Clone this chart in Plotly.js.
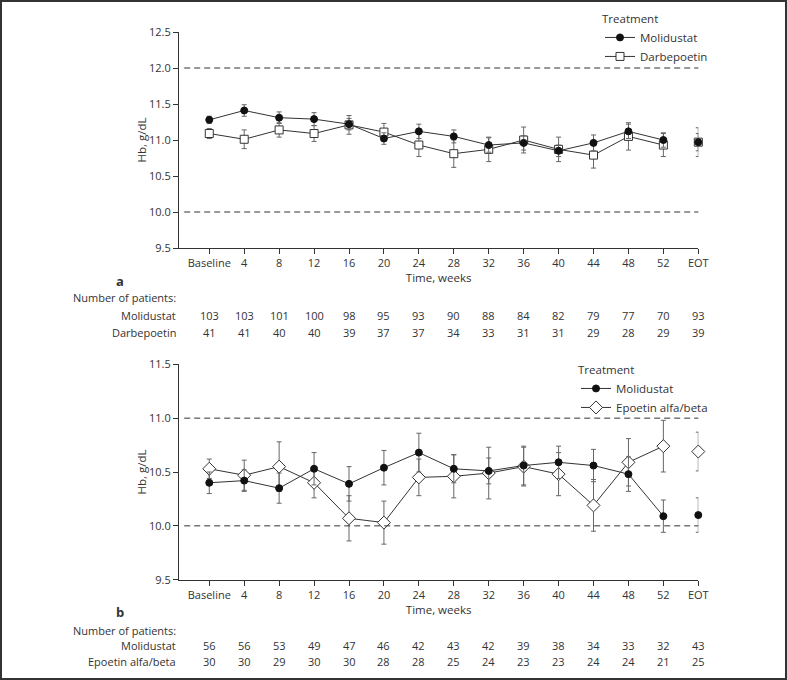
<!DOCTYPE html>
<html>
<head>
<meta charset="utf-8">
<script src="https://cdn.plot.ly/plotly-3.0.1.min.js"></script>
<style>
body { margin: 0; }
#chart { width: 787px; height: 680px; }
#frame { position: absolute; left: 0; top: 0; width: 787px; height: 680px; box-sizing: border-box; border: 2px solid #333; pointer-events: none; }
</style>
</head>
<body>
<div id="chart"></div>
<div id="frame"></div>
<script>
const weeks = ['Baseline', '4', '8', '12', '16', '20', '24', '28', '32', '36', '40', '44', '48', '52', 'EOT'];

// panel a
const moliA    = [11.28, 11.41, 11.31, 11.29, 11.22, 11.02, 11.12, 11.05, 10.93, 10.96, 10.85, 10.96, 11.12, 11.00, 10.97];
const moliAErr = [0.05, 0.08, 0.08, 0.09, 0.08, 0.08, 0.10, 0.09, 0.10, 0.10, 0.08, 0.11, 0.10, 0.10, 0.12];
const darbA    = [11.09, 11.01, 11.14, 11.09, 11.21, 11.11, 10.93, 10.81, 10.87, 11.00, 10.87, 10.79, 11.05, 10.93, 10.97];
const darbAErr = [0.07, 0.13, 0.10, 0.11, 0.13, 0.12, 0.16, 0.19, 0.17, 0.18, 0.17, 0.18, 0.19, 0.16, 0.20];

// panel b
const moliB    = [10.40, 10.42, 10.35, 10.53, 10.39, 10.54, 10.68, 10.53, 10.51, 10.56, 10.59, 10.56, 10.48, 10.09, 10.10];
const moliBErr = [0.10, 0.10, 0.14, 0.15, 0.16, 0.16, 0.18, 0.13, 0.12, 0.18, 0.15, 0.15, 0.16, 0.15, 0.16];
const epoB     = [10.53, 10.47, 10.55, 10.40, 10.07, 10.03, 10.45, 10.46, 10.49, 10.55, 10.48, 10.19, 10.59, 10.74, 10.69];
const epoBErr  = [0.09, 0.14, 0.23, 0.14, 0.21, 0.20, 0.17, 0.20, 0.24, 0.18, 0.20, 0.24, 0.22, 0.24, 0.18];

// number of patients
const nMoliA = [103, 103, 101, 100, 98, 95, 93, 90, 88, 84, 82, 79, 77, 70, 93];
const nDarbA = [41, 41, 40, 40, 39, 37, 37, 34, 33, 31, 31, 29, 28, 29, 39];
const nMoliB = [56, 56, 53, 49, 47, 46, 42, 43, 42, 39, 38, 34, 33, 32, 43];
const nEpoB  = [30, 30, 29, 30, 30, 28, 28, 25, 24, 23, 23, 24, 24, 21, 25];

const ink = '#333';
const fontFam = '"Open Sans", "DejaVu Sans", sans-serif';

function series(vals, errs, name, marker, xa, ya, legend) {
    // line runs through week 52, EOT is drawn on its own
    let main = {
        x: weeks.slice(0, 14), y: vals.slice(0, 14),
        error_y: {type: 'data', array: errs.slice(0, 14), color: '#666', thickness: 1, width: 2.5},
        type: 'scatter', mode: 'lines+markers', name: name,
        line: {color: ink, width: 1}, marker: marker,
        xaxis: xa, yaxis: ya, legend: legend, cliponaxis: false,
    };
    let eot = {
        x: weeks.slice(14), y: vals.slice(14),
        error_y: {type: 'data', array: errs.slice(14), color: '#666', thickness: 1, width: 2.5},
        type: 'scatter', mode: 'markers', name: name, showlegend: false,
        marker: marker, xaxis: xa, yaxis: ya, cliponaxis: false,
    };
    return [main, eot];
}

const dot = {symbol: 'circle', size: 7, color: '#111', line: {color: '#111', width: 1}};
const square = {symbol: 'square', size: 8, color: 'white', line: {color: ink, width: 1}};
const diamond = {symbol: 'diamond', size: 10, color: 'white', line: {color: ink, width: 1}};

let data = [].concat(
    series(darbA, darbAErr, 'Darbepoetin', square, 'x', 'y', 'legend'),
    series(moliA, moliAErr, 'Molidustat', dot, 'x', 'y', 'legend'),
    series(epoB, epoBErr, 'Epoetin alfa/beta', diamond, 'x2', 'y2', 'legend2'),
    series(moliB, moliBErr, 'Molidustat', dot, 'x2', 'y2', 'legend2')
);

function xAxis(anchor) {
    return {
        type: 'category', categoryorder: 'array', categoryarray: weeks,
        domain: [179 / 787, 698.3 / 787], range: [-0.867, 14], anchor: anchor,
        showline: true, linecolor: ink, linewidth: 1,
        ticks: 'outside', ticklen: 5, tickcolor: ink,
        showgrid: false, zeroline: false,
        title: {text: 'Time, weeks', standoff: 4, font: {size: 11.5}},
    };
}

function yAxis(anchor, dom, range) {
    return {
        domain: dom, range: range, anchor: anchor, dtick: 0.5, tickformat: '.1f',
        showline: true, linecolor: ink, linewidth: 1,
        ticks: 'outside', ticklen: 5, tickcolor: ink,
        showgrid: false, zeroline: false,
        title: {text: 'Hb, g/dL', standoff: 0, font: {size: 11.5}},
    };
}

function dashed(yref, y) {
    return {type: 'line', xref: 'x domain', yref: yref, x0: 0.01, x1: 1, y0: y, y1: y,
            line: {color: ink, width: 1, dash: '6px,4px'}};
}

let annotations = [];
function row(label, counts, yPix, xa) {
    annotations.push({text: label, xref: 'paper', yref: 'paper', x: 178 / 787, y: 1 - yPix / 680,
                      xanchor: 'right', yanchor: 'middle', showarrow: false});
    if (!counts) return;
    counts.forEach(function(n, i) {
        // i is the category position on the x axis
        annotations.push({text: String(n), xref: xa, yref: 'paper', x: i, y: 1 - yPix / 680,
                          xanchor: 'center', yanchor: 'middle', showarrow: false});
    });
}
row('Number of patients:', null, 297, 'x');
row('Molidustat', nMoliA, 315, 'x');
row('Darbepoetin', nDarbA, 332, 'x');
row('Number of patients:', null, 630, 'x2');
row('Molidustat', nMoliB, 645, 'x2');
row('Epoetin alfa/beta', nEpoB, 661, 'x2');
annotations.push({text: '<b>a</b>', xref: 'paper', yref: 'paper', x: 120 / 787, y: 1 - 281 / 680,
                  xanchor: 'center', yanchor: 'middle', showarrow: false, font: {size: 13}});
annotations.push({text: '<b>b</b>', xref: 'paper', yref: 'paper', x: 120 / 787, y: 1 - 612 / 680,
                  xanchor: 'center', yanchor: 'middle', showarrow: false, font: {size: 13}});

let legendBase = {
    title: {text: 'Treatment', font: {size: 11.5}}, font: {size: 11.5},
    bgcolor: 'rgba(0,0,0,0)', traceorder: 'reversed',
    xanchor: 'left', yanchor: 'top', tracegroupgap: 0,
};

let layout = {
    width: 787, height: 680,
    margin: {l: 0, r: 0, t: 0, b: 0},
    paper_bgcolor: 'white', plot_bgcolor: 'white',
    font: {family: fontFam, size: 11, color: ink},
    xaxis: xAxis('y'),
    yaxis: yAxis('x', [1 - 248 / 680, 1 - 32 / 680], [9.5, 12.5]),
    xaxis2: xAxis('y2'),
    yaxis2: yAxis('x2', [1 - 579.7 / 680, 1 - 364.3 / 680], [9.5, 11.5]),
    shapes: [dashed('y', 12.0), dashed('y', 10.0), dashed('y2', 11.0), dashed('y2', 10.0)],
    annotations: annotations,
    legend: Object.assign({}, legendBase, {x: 600 / 787, y: 1 - 8 / 680}),
    legend2: Object.assign({}, legendBase, {x: 576 / 787, y: 1 - 359 / 680}),
    showlegend: true,
};

Plotly.newPlot('chart', data, layout, {displayModeBar: false, staticPlot: true});
</script>
</body>
</html>
